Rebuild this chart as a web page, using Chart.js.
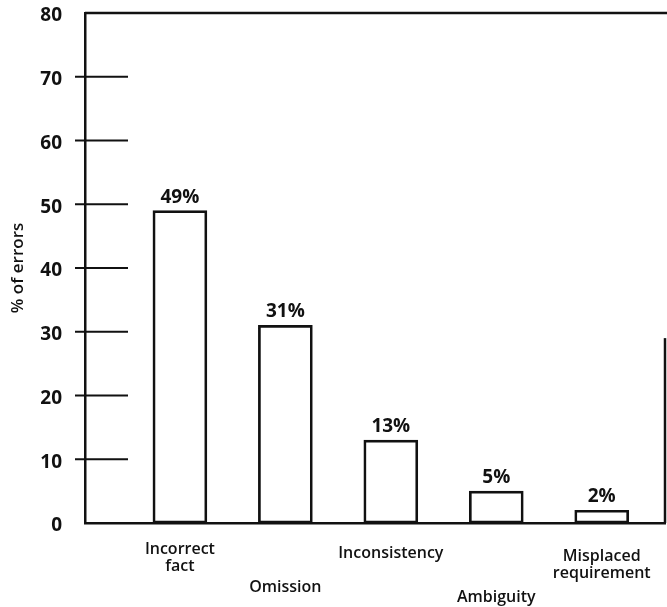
<!DOCTYPE html>
<html>
<head>
<meta charset="utf-8">
<script src="https://cdn.jsdelivr.net/npm/chart.js@4.4.1/dist/chart.umd.min.js"></script>
<style>
  html, body { margin: 0; padding: 0; background: #fff; }
  #wrap { width: 667px; height: 607px; position: relative; }
</style>
</head>
<body>
<div id="wrap"><canvas id="c" width="667" height="607"></canvas></div>
<script>
const categories = [["Incorrect", "fact"], ["Omission"], ["Inconsistency"], ["Ambiguity"], ["Misplaced", "requirement"]];
const values = [49, 31, 13, 5, 2];
const valueLabels = ["49%", "31%", "13%", "5%", "2%"];
const yTicks = [0, 10, 20, 30, 40, 50, 60, 70, 80];

const INK = '#111';
const FONT = '"Open Sans", "DejaVu Sans", sans-serif';

const decor = {
  id: 'decor',
  afterDatasetsDraw(chart, args, opts) {
    const ctx = chart.ctx;
    const xs = chart.scales.x, ys = chart.scales.y;
    const a = chart.chartArea;
    ctx.save();
    ctx.strokeStyle = INK;
    ctx.lineWidth = 2.5;
    // top border
    ctx.beginPath();
    ctx.moveTo(a.left, a.top);
    ctx.lineTo(chart.width, a.top);
    ctx.stroke();
    // partial right border (as in the scan)
    ctx.beginPath();
    ctx.moveTo(a.right, ys.getPixelForValue(opts.rightBorderFrom));
    ctx.lineTo(a.right, a.bottom);
    ctx.stroke();
    // y tick marks crossing the axis
    ctx.lineWidth = 2.2;
    yTicks.forEach(v => {
      if (v === 0 || v === 80) return;
      const y = ys.getPixelForValue(v);
      ctx.beginPath();
      ctx.moveTo(a.left - opts.tickOut, y);
      ctx.lineTo(a.left + opts.tickIn, y);
      ctx.stroke();
    });
    // value labels above bars
    const meta = chart.getDatasetMeta(0);
    ctx.fillStyle = INK;
    ctx.textAlign = 'center';
    ctx.textBaseline = 'alphabetic';
    ctx.font = 'bold 19px ' + FONT;
    meta.data.forEach((bar, i) => {
      ctx.fillText(valueLabels[i], bar.x, bar.y - 8);
    });
    // staggered category labels
    ctx.font = '600 16px ' + FONT;
    ctx.textBaseline = 'middle';
    categories.forEach((lines, i) => {
      const x = xs.getPixelForValue(i);
      lines.forEach((t, j) => {
        ctx.fillText(t, x, a.bottom + opts.labelOffsets[i] + j * opts.lineGap);
      });
    });
    ctx.restore();
  }
};

new Chart(document.getElementById('c'), {
  type: 'bar',
  data: {
    datasets: [{
      data: values.map((v, i) => ({ x: i, y: v })),
      backgroundColor: '#fff',
      borderColor: INK,
      borderWidth: 2.7,
      borderSkipped: false,
      barThickness: 54
    }]
  },
  options: {
    responsive: false,
    animation: false,
    layout: { padding: { top: 13, right: 2, left: 0, bottom: 0 } },
    plugins: {
      legend: { display: false },
      tooltip: { enabled: false },
      decor: {
        tickOut: 10, tickIn: 43, rightBorderFrom: 29,
        labelOffsets: [26, 64, 30, 74, 33], lineGap: 17
      }
    },
    scales: {
      x: {
        type: 'linear',
        offset: false,
        min: -0.9, max: 4.6,
        ticks: { display: false },
        grid: { display: false, offset: false },
        border: { display: true, color: INK, width: 2.5 },
        afterFit(s) { s.height = 84; s.paddingLeft = 0; s.paddingRight = 0; }
      },
      y: {
        min: 0, max: 80,
        afterBuildTicks(s) { s.ticks = yTicks.map(v => ({ value: v })); },
        ticks: {
          color: INK, padding: 15, labelOffset: 3,
          font: { family: FONT, size: 19, weight: 'bold' }
        },
        grid: { display: false },
        border: { display: true, color: INK, width: 2.5 },
        title: {
          display: true, text: '% of errors', color: INK,
          font: { family: FONT, size: 17, weight: '600' },
          padding: { top: 8, bottom: 0 }
        },
        afterFit(s) { s.width = 85; s.paddingTop = 0; s.paddingBottom = 0; }
      }
    }
  },
  plugins: [decor]
});
</script>
</body>
</html>
